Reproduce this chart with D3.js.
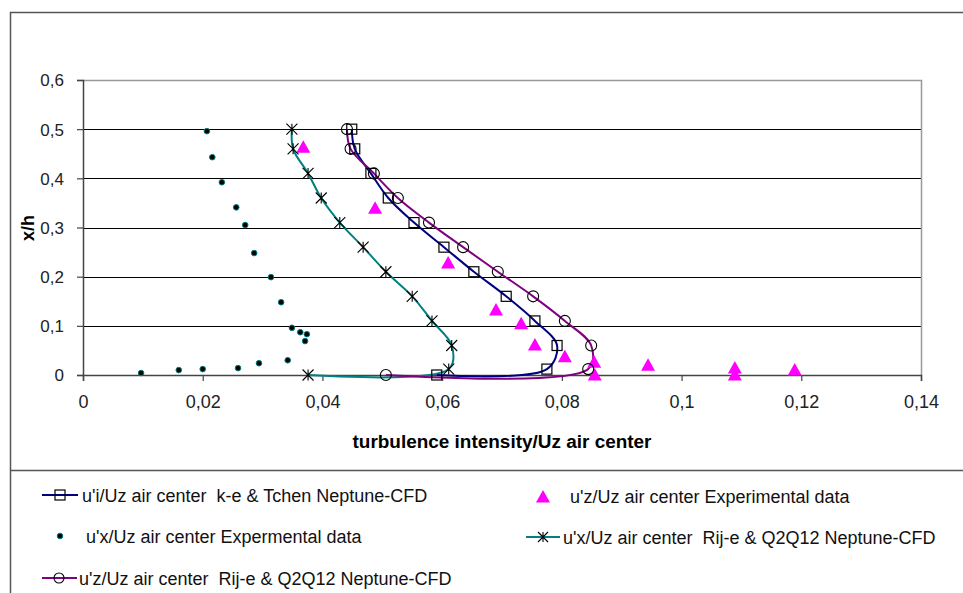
<!DOCTYPE html>
<html><head><meta charset="utf-8">
<script src="https://cdn.jsdelivr.net/npm/d3@7"></script>
<style>
html,body{margin:0;padding:0;background:#fff;}
svg{display:block;font-family:"Liberation Sans",Arial,sans-serif;}
.leg{white-space:pre;}
</style></head>
<body><svg id="c" width="963" height="593"></svg>
<script>
// x/h positions
const hKe = [0.5,0.46,0.41,0.36,0.31,0.26,0.21,0.16,0.11,0.06,0.012,0];
const vKe = [0.0449,0.0454,0.0481,0.0510,0.0553,0.0603,0.0653,0.0707,0.0755,0.0792,0.0775,0.0591];
const hRz = [0.5,0.46,0.41,0.36,0.31,0.26,0.21,0.16,0.11,0.06,0.012,0];
const vRz = [0.0441,0.0447,0.0486,0.0526,0.0578,0.0635,0.0693,0.0752,0.0805,0.0849,0.0844,0.0506];
const hRx = [0.5,0.46,0.41,0.36,0.31,0.26,0.21,0.16,0.11,0.06,0.012,0];
const vRx = [0.0349,0.0351,0.0376,0.0398,0.0429,0.0468,0.0506,0.0550,0.0583,0.0616,0.0611,0.0376];
const hExpX = [0.496,0.443,0.392,0.341,0.305,0.248,0.199,0.148,0.096,0.087,0.083,0.069,0.030,0.024,0.014,0.012,0.010,0.004];
const vExpX = [0.0207,0.0216,0.0232,0.0256,0.0271,0.0286,0.0314,0.0331,0.0349,0.0363,0.0374,0.0371,0.0342,0.0294,0.0259,0.0200,0.0160,0.0097];
const hExpZ = [0.463,0.339,0.228,0.132,0.104,0.061,0.037,0.026,0,0.020,0.014,0,0.010];
const vExpZ = [0.0368,0.0488,0.0610,0.0690,0.0732,0.0755,0.0805,0.0854,0.0855,0.0944,0.1089,0.1089,0.1189];
const xTicks = [0,0.02,0.04,0.06,0.08,0.1,0.12,0.14];
const xTickLabels = ["0","0,02","0,04","0,06","0,08","0,1","0,12","0,14"];
const yTicks = [0,0.1,0.2,0.3,0.4,0.5,0.6];
const yTickLabels = ["0","0,1","0,2","0,3","0,4","0,5","0,6"];
const legendLabels = [
  "u'i/Uz air center  k-e & Tchen Neptune-CFD",
  "u'z/Uz air center Experimental data",
  "u'x/Uz air center Expermental data",
  "u'x/Uz air center  Rij-e & Q2Q12 Neptune-CFD",
  "u'z/Uz air center  Rij-e & Q2Q12 Neptune-CFD"
];
const xTitle = "turbulence intensity/Uz air center";
const yTitle = "x/h";

const svg = d3.select("#c");
const L=83, R=921, T=80, B=375;
const x = d3.scaleLinear().domain([0,0.14]).range([L,R]);
const y = d3.scaleLinear().domain([0,0.6]).range([B,T]);

// frame
svg.append("path").attr("d","M10.5,593 V12.5 H963").attr("fill","none").attr("stroke","#555").attr("stroke-width",1.5);
svg.append("line").attr("x1",10).attr("x2",963).attr("y1",470.5).attr("y2",470.5).attr("stroke","#555").attr("stroke-width",1.5);

// grid
svg.append("g").selectAll("line").data(yTicks.slice(1,6)).join("line")
  .attr("x1",L).attr("x2",R).attr("y1",d=>Math.round(y(d))+0.5).attr("y2",d=>Math.round(y(d))+0.5)
  .attr("stroke","#000").attr("stroke-width",1.2);
// plot border
svg.append("path").attr("d",`M${L},${T+0.5} H${R+0.5} V${B}`).attr("fill","none").attr("stroke","#999").attr("stroke-width",1.5);

// axes
const xAxis = d3.axisBottom(x).tickValues(xTicks).tickSize(6).tickFormat((d,i)=>xTickLabels[i]);
const gx = svg.append("g").attr("transform",`translate(0,${B})`).call(xAxis);
gx.select(".domain").attr("stroke","#444").attr("stroke-width",1.5);
gx.selectAll(".tick line").attr("stroke","#444").attr("stroke-width",1.2);
gx.selectAll("text").attr("font-size",18).attr("fill","#222").attr("font-family","Liberation Sans, Arial").attr("y",20).attr("dy","0.71em");

const yAxis = d3.axisLeft(y).tickValues(yTicks).tickSize(6).tickFormat((d,i)=>yTickLabels[i]);
const gy = svg.append("g").attr("transform",`translate(${L},0)`).call(yAxis);
gy.select(".domain").attr("stroke","#444").attr("stroke-width",1.5);
gy.selectAll(".tick line").attr("stroke","#444").attr("stroke-width",1.2);
gy.selectAll("text").attr("font-size",17).attr("fill","#222").attr("font-family","Liberation Sans, Arial").attr("x",-19).attr("dy","0.35em");

// titles
svg.append("text").attr("x",502).attr("y",448).attr("text-anchor","middle").attr("font-weight","bold")
  .attr("font-size",18).attr("fill","#000").attr("textLength",299).attr("lengthAdjust","spacingAndGlyphs").text(xTitle);
svg.append("text").attr("transform","translate(34,228) rotate(-90)").attr("text-anchor","middle").attr("font-weight","bold")
  .attr("font-size",18).attr("fill","#000").text(yTitle);

// series
const line = d3.line().x(d=>x(d[0])).y(d=>y(d[1])).curve(d3.curveCatmullRom.alpha(0.5));
const zip = (v,h)=>v.map((d,i)=>[d,h[i]]);
const sKe = zip(vKe,hKe), sRz = zip(vRz,hRz), sRx = zip(vRx,hRx);
const sEx = zip(vExpX,hExpX), sEz = zip(vExpZ,hExpZ);

const plot = svg.append("g");
plot.append("path").attr("d",line(sRx)).attr("fill","none").attr("stroke","#008080").attr("stroke-width",2);
plot.append("path").attr("d",line(sKe)).attr("fill","none").attr("stroke","#000080").attr("stroke-width",2);
plot.append("path").attr("d",line(sRz)).attr("fill","none").attr("stroke","#800080").attr("stroke-width",2);

function square(g,cx,cy,s){g.append("rect").attr("x",cx-s/2).attr("y",cy-s/2).attr("width",s).attr("height",s).attr("fill","none").attr("stroke","#000").attr("stroke-width",1.2);}
function circle(g,cx,cy,r){g.append("circle").attr("cx",cx).attr("cy",cy).attr("r",r).attr("fill","none").attr("stroke","#000").attr("stroke-width",1.1);}
function star(g,cx,cy,s){g.append("path").attr("d",`M${cx},${cy-s} V${cy+s} M${cx-s},${cy-s} L${cx+s},${cy+s} M${cx-s},${cy+s} L${cx+s},${cy-s}`).attr("stroke","#000").attr("stroke-width",1.1).attr("fill","none");}
function dot(g,cx,cy){g.append("circle").attr("cx",cx).attr("cy",cy).attr("r",2.8).attr("fill","#000").attr("stroke","#008080").attr("stroke-width",1);}
function tri(g,cx,cy){g.append("path").attr("d",`M${cx},${cy-7} L${cx+7},${cy+5.5} L${cx-7},${cy+5.5} Z`).attr("fill","#ff00ff");}

sEz.forEach(d=>tri(plot,x(d[0]),y(d[1])));
sRx.forEach(d=>star(plot,x(d[0]),y(d[1]),5.5));
sKe.forEach(d=>square(plot,x(d[0]),y(d[1]),10));
sRz.forEach(d=>circle(plot,x(d[0]),y(d[1]),5.5));
sEx.forEach(d=>dot(plot,x(d[0]),y(d[1])));

// legend
const lg = svg.append("g");
function legText(tx,ty,t){lg.append("text").attr("class","leg").attr("x",tx).attr("y",ty).attr("font-size",18).attr("fill","#111").text(t);}
lg.append("line").attr("x1",42).attr("x2",78).attr("y1",495).attr("y2",495).attr("stroke","#000080").attr("stroke-width",2);
square(lg,60,495,10);
legText(82,502,legendLabels[0]);
tri(lg,543,497);
legText(570,503,legendLabels[1]);
dot(lg,60,536);
legText(86,543,legendLabels[2]);
lg.append("line").attr("x1",526).attr("x2",560).attr("y1",537).attr("y2",537).attr("stroke","#008080").attr("stroke-width",2);
star(lg,543,537,5);
legText(563,544,legendLabels[3]);
lg.append("line").attr("x1",42).attr("x2",77).attr("y1",578).attr("y2",578).attr("stroke","#800080").attr("stroke-width",2);
circle(lg,59,578,5);
legText(79,585,legendLabels[4]);
</script></body></html>
